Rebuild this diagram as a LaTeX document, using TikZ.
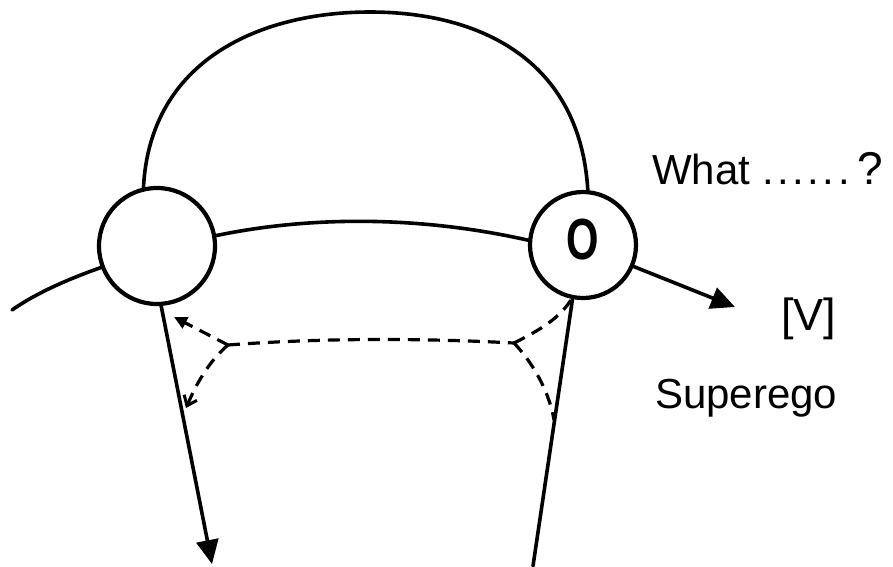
\documentclass[tikz,border=0pt]{standalone}
\usepackage{fontspec}
\setmainfont{Liberation Sans}
\usetikzlibrary{arrows.meta}
\begin{document}
\begin{tikzpicture}[x=1pt,y=-1pt,
  ink/.style={line width=3.6pt,line cap=round,line join=round},
  ring/.style={circle,draw,line width=4.2pt,inner sep=0pt},
  dsh/.style={line width=3.2pt,dash pattern=on 12pt off 8pt},
  lbl/.style={font=\fontsize{42}{42}\selectfont,inner sep=0pt},
  fulltip/.style={-{Triangle[length=24pt,width=22pt]}},
  smalltip/.style={-{Triangle[length=13pt,width=12pt]}},
  opentip/.style={-{Straight Barb[length=9pt,width=14pt,line width=3pt]}}]
\useasboundingbox (0,0) rectangle (893,566);
\node[ring,minimum size=116pt] (L) at (157,246) {};
\node[ring,minimum size=106pt] (R) at (583,245) {};
\node[inner sep=0pt] (O) at (583,240) {\fontsize{58}{58}\selectfont\bfseries\scalebox{0.72}[1]{O}};
% arcs
\draw[ink] (L.103) .. controls (150,60) and (260,12) .. (370,12)
  .. controls (480,12) and (580,60) .. (R.85);
\draw[ink] (L.10) .. controls (320,214) and (430,218) .. (R.175);
\coordinate (tail) at (12,310);
\draw[ink] (L.201) .. controls (60,282) and (32,296) .. (tail);
\coordinate (vtip) at (735,307);
\draw[ink,fulltip] (R.337) -- (vtip);
\coordinate (ltip) at (212,564);
\draw[ink,fulltip] (L.274) -- (ltip);
\coordinate (rbot) at (533,566);
\draw[ink] (R.259) -- (rbot);
% dashed
\coordinate (J1) at (228,345);
\coordinate (J2) at (514,343);
\coordinate (a1) at (174,317);
\coordinate (a2) at (186,408);
\coordinate (b2) at (554,420);
\draw[dsh] (J1) .. controls (320,338) and (420,338) .. (J2);
\draw[dsh,smalltip] (J1) -- (a1);
\draw[dsh,opentip] (J1) .. controls (208,362) and (196,385) .. (a2);
\draw[dsh] (J2) .. controls (540,330) and (560,318) .. (R.258);
\draw[dsh] (J2) .. controls (535,365) and (550,395) .. (b2);
% labels
\node[lbl,anchor=base west] (what) at (652,184) {What\hspace{12pt}.\hspace{3.5pt}.\hspace{3.5pt}.\hspace{3.5pt}.\hspace{3.5pt}.\hspace{3.5pt}.\hspace{8pt}{\fontsize{46}{46}\selectfont ?}};
\node[lbl,anchor=base west,font=\fontsize{45}{45}\selectfont] (v) at (781,330) {[V]};
\node[lbl,anchor=base west] (se) at (655,408) {Superego};
\end{tikzpicture}
\end{document}
